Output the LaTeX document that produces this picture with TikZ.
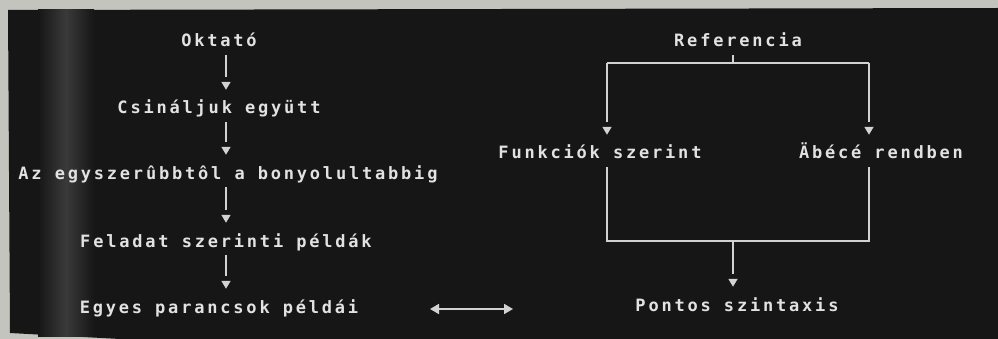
\documentclass[tikz,border=0pt]{standalone}
\usepackage{fontspec}
\newfontfamily\screenfont[LetterSpace=16.5]{DejaVu Sans Mono Bold}
\usetikzlibrary{arrows.meta,calc}
\definecolor{paper}{HTML}{C4C4BE}
\definecolor{screen}{HTML}{161616}
\definecolor{glow}{HTML}{3A3A3A}
\definecolor{ink}{HTML}{E2E2E2}
\definecolor{wire}{HTML}{D2D2D2}
\tikzset{
  x=1pt, y=-1pt,
  lbl/.style={text=ink, font=\screenfont\fontsize{17}{17}\selectfont,
    inner sep=0pt, text height=11pt, text depth=3pt, anchor=center},
  wireline/.style={draw=wire, line width=1.7pt},
  stem/.style={wireline, shorten >=26pt},
  tiponly/.style={wireline, shorten >=13pt, -{Triangle[length=8pt,width=9pt]}},
  dbl/.style={wireline, {Triangle[length=9pt,width=10pt]}-{Triangle[length=9pt,width=10pt]}}
}
% arrow with a small gap between the stem and the head
\newcommand\gaparr[3][5pt]{%
  \draw[stem, shorten <=#1] (#2) -- (#3);
  \draw[tiponly] ($(#3)+(0,-21)$) -- (#3);}
\begin{document}
\begin{tikzpicture}
\useasboundingbox (0,0) rectangle (998,339);
\fill[paper] (0,0) rectangle (998,339);
\fill[screen] (8,10) -- (998,8) -- (998,339) -- (120,339) -- (10,333) -- cycle;
\shade[left color=screen, right color=screen, middle color=glow]
  (38,9.5) rectangle (94,336);
% left column
\node[lbl] (okt)  at (219,43)  {Oktató};
\node[lbl] (csin) at (219,110) {Csináljuk együtt};
\node[lbl] (az)   at (228,175) {Az egyszerûbbtôl a bonyolultabbig};
\node[lbl] (fel)  at (226,243) {Feladat szerinti példák};
\node[lbl] (egy)  at (219,309) {Egyes parancsok példái};
\coordinate (ax) at (226,0);
\gaparr{okt.south -| ax}{csin.north -| ax}
\gaparr{csin.south -| ax}{az.north -| ax}
\gaparr{az.south -| ax}{fel.north -| ax}
\gaparr{fel.south -| ax}{egy.north -| ax}
% right column
\node[lbl] (ref)  at (738,43)  {Referencia};
\node[lbl] (funk) at (600,155) {Funkciók szerint};
\node[lbl] (abc)  at (881,155) {Äbécé rendben};
\node[lbl] (pont) at (737,307) {Pontos szintaxis};
\coordinate (rj) at (733,63);
\coordinate (fl) at (607,63);
\coordinate (fr) at (869,63);
\coordinate (bl) at (607,241);
\coordinate (br) at (869,241);
\coordinate (bj) at (733,241);
\draw[wireline, shorten <=5pt] (ref.south -| rj) -- (rj);
\draw[wireline] (fl) -- (fr);
\gaparr[0pt]{fl}{fl |- funk.north}
\gaparr[0pt]{fr}{fr |- abc.north}
\draw[wireline] (funk.south -| bl) ++(0,5) -- (bl) -- (br) -- ($(abc.south -| br)+(0,5)$);
\gaparr[0pt]{bj}{pont.north -| bj}
% double arrow
\coordinate (dl) at (430,309);
\coordinate (dr) at (513,309);
\draw[dbl] (dl) -- (dr);
\end{tikzpicture}
\end{document}
